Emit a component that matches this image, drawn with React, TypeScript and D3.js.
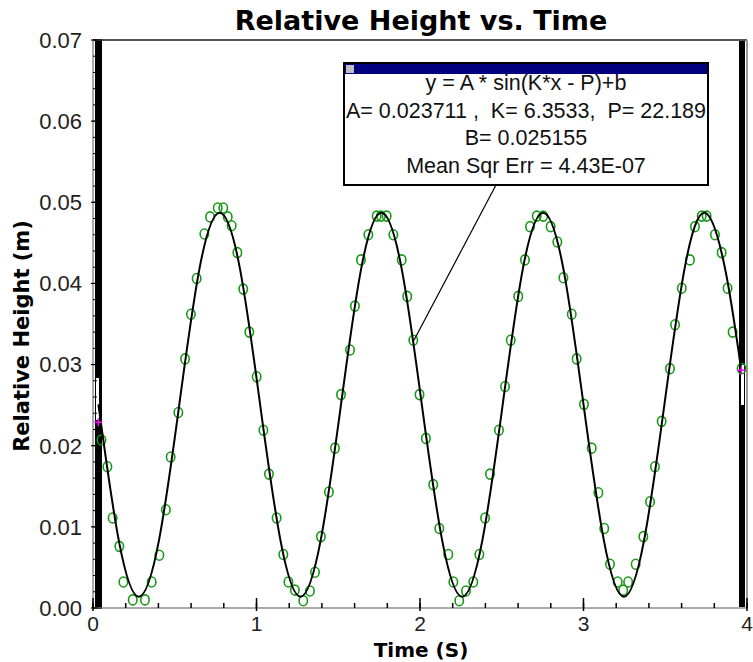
import * as d3 from "d3";
import React from "react";

// measured data (time in s, height in m)
const times = [0.052, 0.088, 0.120, 0.161, 0.186, 0.243, 0.318, 0.359, 0.406, 0.446, 0.475, 0.522, 0.563, 0.599, 0.634, 0.681, 0.716, 0.763, 0.797, 0.824, 0.848, 0.883, 0.919, 0.956,
    1.001, 1.042, 1.076, 1.123, 1.164, 1.195, 1.235, 1.286, 1.327, 1.358, 1.394, 1.443, 1.480, 1.517, 1.572, 1.602, 1.639, 1.684, 1.735, 1.761, 1.796, 1.837, 1.888, 1.922, 1.959, 1.997,
    2.036, 2.081, 2.118, 2.173, 2.204, 2.240, 2.281, 2.326, 2.363, 2.398, 2.428, 2.483, 2.520, 2.555, 2.601, 2.642, 2.673, 2.714, 2.754, 2.799, 2.840, 2.877, 2.928, 2.958,
    3.003, 3.050, 3.091, 3.127, 3.162, 3.209, 3.243, 3.273, 3.319, 3.366, 3.407, 3.437, 3.478, 3.529, 3.560, 3.601, 3.651, 3.682, 3.723, 3.753, 3.804, 3.845, 3.881, 3.912, 3.967];
const heights = [0.0207, 0.0174, 0.0111, 0.0076, 0.0032, 0.0010, 0.0010, 0.0032, 0.0065, 0.0121, 0.0186, 0.0241, 0.0307, 0.0362, 0.0406, 0.0461, 0.0482, 0.0493, 0.0493, 0.0482, 0.0471, 0.0438, 0.0393, 0.0340,
    0.0285, 0.0219, 0.0165, 0.0111, 0.0066, 0.0032, 0.0022, 0.0009, 0.0021, 0.0044, 0.0088, 0.0143, 0.0197, 0.0263, 0.0318, 0.0372, 0.0429, 0.0460, 0.0483, 0.0483, 0.0483, 0.0460, 0.0429, 0.0384, 0.0330, 0.0263,
    0.0209, 0.0152, 0.0098, 0.0066, 0.0032, 0.0009, 0.0021, 0.0032, 0.0066, 0.0111, 0.0165, 0.0219, 0.0273, 0.0330, 0.0384, 0.0429, 0.0470, 0.0483, 0.0483, 0.0470, 0.0451, 0.0407, 0.0362, 0.0307,
    0.0251, 0.0197, 0.0142, 0.0098, 0.0054, 0.0032, 0.0022, 0.0032, 0.0054, 0.0088, 0.0131, 0.0174, 0.0230, 0.0295, 0.0349, 0.0394, 0.0429, 0.0470, 0.0483, 0.0483, 0.0460, 0.0438, 0.0394, 0.0340, 0.0295];

// fitted curve
const fitTimes = [0.033, 0.157, 0.280, 0.404, 0.528, 0.651, 0.775, 0.899, 1.022, 1.146, 1.269, 1.393, 1.517, 1.640, 1.764, 1.888,
    2.011, 2.135, 2.258, 2.382, 2.506, 2.629, 2.753, 2.877, 3.000, 3.124, 3.247, 3.371, 3.495, 3.618, 3.742, 3.866, 3.965];
const fitHeights = [0.0251, 0.0084, 0.0014, 0.0084, 0.0251, 0.0418, 0.0487, 0.0418, 0.0251, 0.0084, 0.0014, 0.0084, 0.0251, 0.0418, 0.0487, 0.0418,
    0.0251, 0.0084, 0.0014, 0.0084, 0.0251, 0.0418, 0.0487, 0.0418, 0.0251, 0.0084, 0.0014, 0.0084, 0.0251, 0.0418, 0.0487, 0.0418, 0.0293];

// analysis bounds markers
const markerTimes = [0.032, 3.965];
const markerHeights = [0.0229, 0.0293];

const xTicks = [0, 1, 2, 3, 4];
const xTickLabels = ["0", "1", "2", "3", "4"];
const yTicks = [0, 0.01, 0.02, 0.03, 0.04, 0.05, 0.06, 0.07];
const yTickLabels = ["0.00", "0.01", "0.02", "0.03", "0.04", "0.05", "0.06", "0.07"];

const fitLines = ["y = A * sin(K*x - P)+b", "A= 0.023711 ,  K= 6.3533,  P= 22.189", "B= 0.025155", "Mean Sqr Err = 4.43E-07"];
const calloutAnchor = [1.963, 0.033];

const W = 753, H = 662;
const left = 93, right = 747, top = 40, bottom = 608;
const sans = "'Liberation Sans', Arial, sans-serif";
const bold = "'DejaVu Sans', sans-serif";

export default function App() {
    const x = d3.scaleLinear().domain([0, 4]).range([left, right]);
    const y = d3.scaleLinear().domain([0, 0.07]).range([bottom, top]);

    const points = times.map((t, i) => [t, heights[i]]);
    const fit = fitTimes.map((t, i) => [t, fitHeights[i]]);

    const line = d3.line<number[]>()
        .x(d => x(d[0]))
        .y(d => y(d[1]))
        .curve(d3.curveNatural);

    const minorX = x.ticks(20);
    const minorY = y.ticks(35);

    // callout box
    const bx = 344, by = 63, bw = 364, bh = 122;

    return (
        <svg width={W} height={H} style={{position: "absolute", left: 0, top: 0, background: "#fff"}}>
            <text x={421} y={30} textAnchor="middle" fontFamily={bold} fontWeight="bold" fontSize={27}>Relative Height vs. Time</text>

            {/* selection bars */}
            <rect x={95} y={top} width={7} height={bottom - top} fill="#000"/>
            <rect x={96} y={378} width={3} height={42} fill="#fff"/>
            <rect x={739} y={top} width={6} height={bottom - top} fill="#000"/>
            <rect x={741} y={365} width={3} height={40} fill="#fff"/>

            {/* frame */}
            <line x1={left} x2={right} y1={top} y2={top} stroke="#555" strokeWidth={2}/>
            <line x1={right} x2={right} y1={top} y2={bottom} stroke="#999" strokeWidth={2}/>
            <line x1={left} x2={left} y1={top} y2={bottom} stroke="#aaa" strokeWidth={2}/>
            <line x1={left} x2={right} y1={bottom} y2={bottom} stroke="#aaa" strokeWidth={2}/>

            {/* y ticks */}
            {minorY.map((v, i) => (
                <line key={"my" + i} x1={left} x2={left + 4} y1={y(v)} y2={y(v)} stroke="#000" strokeWidth={1}/>
            ))}
            {yTicks.map((v, i) => (
                <g key={"y" + i}>
                    <line x1={left - 2} x2={left + 9} y1={y(v)} y2={y(v)} stroke="#000" strokeWidth={1.2}/>
                    <text x={82} y={y(v)} dy="0.36em" textAnchor="end" fontFamily={sans} fontSize={22} fill="#222">{yTickLabels[i]}</text>
                </g>
            ))}

            {/* x ticks */}
            {minorX.map((v, i) => (
                <line key={"mx" + i} x1={x(v)} x2={x(v)} y1={bottom} y2={bottom - 5} stroke="#000" strokeWidth={1.5}/>
            ))}
            {xTicks.map((v, i) => (
                <g key={"x" + i}>
                    <line x1={x(v)} x2={x(v)} y1={bottom + 3} y2={bottom - 10} stroke="#000" strokeWidth={1.5}/>
                    <text x={x(v)} y={631} textAnchor="middle" fontFamily={sans} fontSize={21} fill="#222">{xTickLabels[i]}</text>
                </g>
            ))}

            <text transform="translate(29,336) rotate(-90)" textAnchor="middle" fontFamily={bold} fontWeight="bold" fontSize={21}>Relative Height (m)</text>
            <text x={421} y={657} textAnchor="middle" fontFamily={bold} fontWeight="bold" fontSize={20}>Time (S)</text>

            {/* data */}
            {points.map((d, i) => (
                <ellipse key={"p" + i} cx={x(d[0])} cy={y(d[1])} rx={4.2} ry={5} fill="none" stroke="#169a16" strokeWidth={1.6}/>
            ))}
            <path d={line(fit) || ""} fill="none" stroke="#000" strokeWidth={2}/>

            {markerTimes.map((t, i) => (
                <g key={"mk" + i} stroke="#ff00ff" strokeWidth={1.5}>
                    <line x1={x(t) - 4} x2={x(t) + 4} y1={y(markerHeights[i])} y2={y(markerHeights[i])}/>
                    <line x1={x(t)} x2={x(t)} y1={y(markerHeights[i]) - 4} y2={y(markerHeights[i]) + 4}/>
                </g>
            ))}

            {/* fit callout */}
            <line x1={496} y1={by + bh} x2={x(calloutAnchor[0])} y2={y(calloutAnchor[1])} stroke="#000" strokeWidth={1.2}/>
            <rect x={bx} y={by} width={bw} height={bh} fill="#fff" stroke="#000" strokeWidth={2}/>
            <rect x={bx + 1} y={by + 1} width={bw - 2} height={10} fill="#000080"/>
            <rect x={bx + 2} y={by + 2} width={8} height={8} fill="#c0c0c0"/>
            {fitLines.map((s, i) => (
                <text key={"f" + i} x={bx + bw / 2} y={by + 27 + i * 27.5} textAnchor="middle" fontFamily={sans} fontSize={21.5} fill="#111" style={{whiteSpace: "pre"}}>{s}</text>
            ))}
        </svg>
    );
}
